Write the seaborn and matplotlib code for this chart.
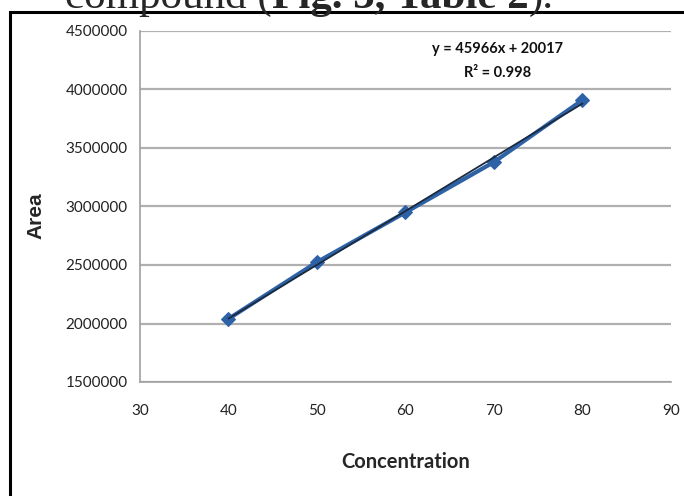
import matplotlib
matplotlib.use("Agg")
import matplotlib.pyplot as plt
import seaborn as sns
import numpy as np
import pandas as pd
from matplotlib.patches import Rectangle

# Data
concentration = [40, 50, 60, 70, 80]
area = [2040000, 2525000, 2950000, 3380000, 3910000]
x_ticks = [30, 40, 50, 60, 70, 80, 90]
y_ticks = [1500000, 2000000, 2500000, 3000000, 3500000, 4000000, 4500000]
equation = "y = 45966x + 20017"
r_squared = "R² = 0.998"

df = pd.DataFrame({"Concentration": concentration, "Area": area})

sns.set_style("white")
plt.rcParams["font.family"] = ["Lato", "DejaVu Sans"]

W, H = 684, 496
fig = plt.figure(figsize=(W / 100, H / 100), dpi=100)
ax = fig.add_axes([140 / W, 1 - 382 / H, (671 - 140) / W, (382 - 31) / H])

# Series with diamond markers
sns.lineplot(data=df, x="Concentration", y="Area", ax=ax, color="#2e62a6",
             linewidth=3, marker="D", markersize=7, markeredgecolor="#2e62a6",
             zorder=3)

# Linear trendline
slope, intercept = np.polyfit(concentration, area, 1)
xs = np.array([concentration[0], concentration[-1]])
ax.plot(xs, slope * xs + intercept, color="#1b2a3f", linewidth=1.3, zorder=4)

ax.set_xlim(30, 90)
ax.set_ylim(1500000, 4500000)
ax.set_xticks(x_ticks)
ax.set_yticks(y_ticks)
ax.set_xticklabels([str(t) for t in x_ticks])
ax.set_yticklabels([str(t) for t in y_ticks])
ax.yaxis.grid(True, color="#b0b0b0", linewidth=1.6)
ax.set_axisbelow(True)

for side in ["top", "right"]:
    ax.spines[side].set_visible(False)
for side in ["left", "bottom"]:
    ax.spines[side].set_color("#a0a0a0")
    ax.spines[side].set_linewidth(1.2)

ax.tick_params(axis="both", direction="out", length=5, width=1, color="#a0a0a0",
               labelsize=11, labelcolor="#222222")
ax.tick_params(axis="x", pad=11)
ax.tick_params(axis="y", pad=4)

ax.set_xlabel("Concentration", fontsize=14.5, fontweight="bold", labelpad=24)
ax.set_ylabel("Area", fontsize=15, fontweight="bold",
              family=["Liberation Sans", "DejaVu Sans"])
ax.yaxis.set_label_coords(-0.178, 0.475)

ax.text(0.674, 0.95, equation, transform=ax.transAxes, fontsize=10.5,
        fontweight="bold", ha="center", va="center", color="#111111")
ax.text(0.674, 0.88, r_squared, transform=ax.transAxes, fontsize=10.5,
        fontweight="bold", ha="center", va="center", color="#111111")

# Outer frame (right and bottom edges fall outside the image)
fig.patches.append(Rectangle((10 / W, -0.2), 1.2, 1 - 12 / H + 0.2,
                             transform=fig.transFigure, fill=False,
                             edgecolor="black", linewidth=2.2))

# Cut-off caption line from the page above the chart
renderer = fig.canvas.get_renderer()
x_pos = 65 / W
pieces = [("compound (", "normal"), ("Fig. 3, Table 2", "bold"), (").", "normal")]
for txt, weight in pieces:
    t = fig.text(x_pos, 1 - 8 / H, txt, fontsize=31, fontweight=weight,
                 family=["Liberation Serif", "DejaVu Serif"], va="baseline")
    bb = t.get_window_extent(renderer)
    x_pos += bb.width / W

fig.savefig("out.png", dpi=100)
